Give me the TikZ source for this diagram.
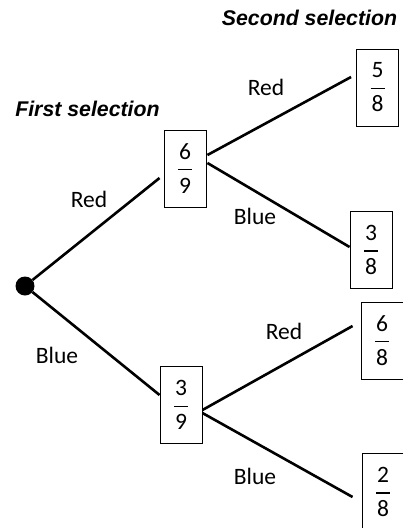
\documentclass[tikz,border=0pt]{standalone}
\usepackage{fontspec}
\setmainfont{Carlito}
\newfontfamily\headfont{Liberation Sans}
\usetikzlibrary{positioning}

\tikzset{
  prob/.style={draw, line width=0.9pt, minimum width=42pt, minimum height=77pt,
    inner sep=0pt, align=center, font=\fontsize{23.5}{17}\selectfont},
  branch/.style={line width=2.6pt},
  lbl/.style={font=\fontsize{23.5}{28}\selectfont, inner sep=0pt},
  head/.style={font=\headfont\bfseries\itshape\fontsize{21.3}{25}\selectfont, inner sep=0pt},
}
\newcommand{\frc}[2]{#1\\\rule[6pt]{14pt}{1.1pt}\\#2}

\begin{document}
\begin{tikzpicture}[x=1pt, y=-1pt]
    \useasboundingbox (0,0) rectangle (403,528);
    \node[head] (second) at (309.5,18) {Second selection};
    \node[head] (first)  at (87.5,109) {First selection};

    \node[circle, fill, minimum size=19pt, inner sep=0pt] (root) at (25,286) {};
    \node[prob] (r)  at (185,168.5) {\frc{6}{9}};
    \node[prob] (b)  at (181,405)   {\frc{3}{9}};
    \node[prob] (rr) at (377.5,87.5) {\frc{5}{8}};
    \node[prob] (rb) at (371,250)   {\frc{3}{8}};
    \node[prob] (br) at (382,340.5) {\frc{6}{8}};
    \node[prob] (bb) at (383,492)   {\frc{2}{8}};

    \draw[branch] (root) -- ([xshift=-4pt, yshift=-9.5pt]r.west);
    \draw[branch] (root) -- ([yshift=10pt]b.west);
    \draw[branch] ([xshift=1pt, yshift=13.5pt]r.east) -- ([xshift=-5pt, yshift=10.5pt]rr.west);
    \draw[branch] ([xshift=1pt, yshift=5.5pt]r.east)  -- ([yshift=3pt]rb.west);
    \draw[branch] ([yshift=-5pt]b.east) -- ([xshift=-8pt, yshift=14.5pt]br.west);
    \draw[branch] ([yshift=-8pt]b.east) -- ([xshift=-9pt, yshift=-5pt]bb.west);

    \node[lbl] (lr)  at (89,199)  {Red};
    \node[lbl] (lb)  at (57,355)  {Blue};
    \node[lbl] (lrr) at (266,87)  {Red};
    \node[lbl] (lrb) at (255,216) {Blue};
    \node[lbl] (lbr) at (284,331) {Red};
    \node[lbl] (lbb) at (255,476) {Blue};
\end{tikzpicture}
\end{document}
